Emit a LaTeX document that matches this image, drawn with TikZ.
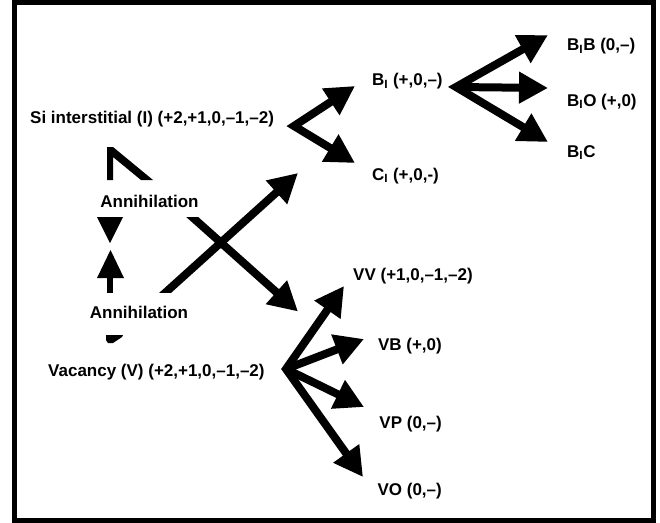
\documentclass[tikz,border=0pt]{standalone}
\usepackage{fontspec}
\setmainfont{Liberation Sans}
\usetikzlibrary{arrows.meta}
\begin{document}
\begin{tikzpicture}[x=1pt,y=-1pt,
  lbl/.style={font=\bfseries\fontsize{17}{20}\selectfont, inner sep=0pt},
  headtip/.tip={Triangle[length=29pt,width=30pt]},
  arr/.style={line width=8pt, -{headtip}},
  arrpair/.style={line width=8pt, {headtip}-{headtip}, line join=miter},
  frag/.style={fill=black, draw=none}]
\useasboundingbox (0,0) rectangle (660,522);
% frame
\draw[line width=5pt] (14.5,2) rectangle (653,520);
% labels
\node[lbl, anchor=base west] (si) at (30,123) {Si interstitial (I) (+2,+1,0,–1,–2)};
\node[lbl, anchor=base] (ann1) at (149.5,207) {Annihilation};
\node[lbl, anchor=base] (ann2) at (139,318) {Annihilation};
\node[lbl, anchor=base west] (vac) at (48,376.5) {Vacancy (V) (+2,+1,0,–1,–2)};
\node[lbl, anchor=base west] (bi) at (372,85.5) {B\textsubscript{I} (+,0,–)};
\node[lbl, anchor=base west] (ci) at (372,180) {C\textsubscript{I} (+,0,-)};
\node[lbl, anchor=base west] (bib) at (567,50.5) {B\textsubscript{I}B (0,–)};
\node[lbl, anchor=base west] (bio) at (567,106) {B\textsubscript{I}O (+,0)};
\node[lbl, anchor=base west] (bic) at (567,157.3) {B\textsubscript{I}C};
\node[lbl, anchor=base west] (vv) at (353,280) {VV (+1,0,–1,–2)};
\node[lbl, anchor=base east] (vb) at (442,350) {VB (+,0)};
\node[lbl, anchor=base east] (vp) at (442,428) {VP (0,–)};
\node[lbl, anchor=base east] (vo) at (442,495) {VO (0,–)};
% fan coordinates
\coordinate (siA) at (294,126);
\coordinate (siU) at (355,86);
\coordinate (siD) at (355,163);
\coordinate (biA) at (456,87);
\coordinate (biU) at (548,35);
\coordinate (biM) at (548,88);
\coordinate (biD) at (548,142);
\coordinate (vA) at (286,369);
\coordinate (vU) at (344,286);
\coordinate (vB) at (364,339);
\coordinate (vP) at (364,407);
\coordinate (vD) at (363,477);
% fans
\draw[arrpair] (siU) -- (siA) -- (siD);
\draw[arr] (biA) -- (biM);
\draw[arrpair] (biU) -- (biA) -- (biD);
\draw[arr] (vA) -- (vB);
\draw[arr] (vA) -- (vP);
\draw[arrpair] (vU) -- (vA) -- (vD);
% crossing arrows
\coordinate (x1t) at (155,302);
\coordinate (x1h) at (298,173);
\coordinate (x2t) at (181,207);
\coordinate (x2h) at (298,311.5);
\begin{scope}
  \clip (0,0) rectangle (660,292);
  \draw[arr] (x1t) -- (x1h);
\end{scope}
\begin{scope}
  \clip (0,217) rectangle (660,522);
  \draw[arr] (x2t) -- (x2h);
\end{scope}
% fragments near the annihilation labels
\fill[frag] (107,147) -- (113,147) -- (153,180) -- (141,180) -- (113,157) -- (113,180) -- (107,180) -- cycle;
\fill[frag] (97,217) -- (123,217) -- (110,243) -- cycle;
\fill[frag] (97,278) -- (110.5,250) -- (124,278) -- cycle;
\fill[frag] (107,277) rectangle (113,293);
\fill[frag] (106,335) -- (123,335) -- (122,337) -- (113,343) -- (108,343) -- (106,340) -- cycle;
\end{tikzpicture}
\end{document}
